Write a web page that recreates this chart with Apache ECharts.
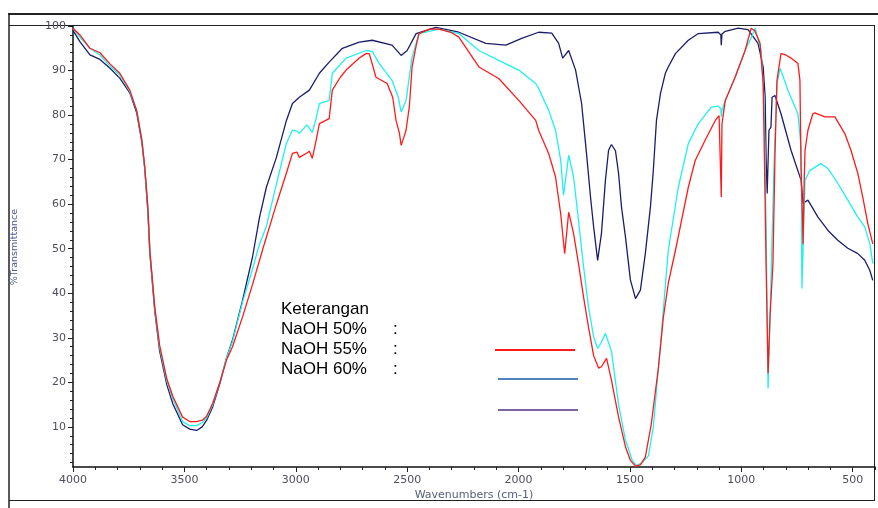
<!DOCTYPE HTML>
<html>
    <head>
        <title>FTIR NaOH</title>
        <meta charset="utf-8">
        <script src="https://cdn.jsdelivr.net/npm/echarts@6/dist/echarts.min.js"></script>
        <style>
            html, body { margin: 0; padding: 0; background: #fff; }
            #chart { width: 878px; height: 508px; }
        </style>
    </head>
    <body>
        <div id="chart"></div>
        <script>
        // wavenumbers (cm-1) and %T
        var redWn = [4000,3969,3924,3879,3834,3790,3745,3714,3691,3678,3664,3655,3633,3611,3579,3552,3508,3476,3445,3420,3400,3373,3342,3311,3284,3239,3194,3150,3087,3042,3015,2995,2984,2950,2939,2926,2910,2894,2850,2836,2800,2774,2715,2684,2670,2640,2590,2565,2550,2535,2527,2515,2505,2490,2478,2460,2447,2400,2357,2300,2268,2178,2089,1999,1923,1910,1865,1834,1811,1793,1775,1753,1731,1708,1686,1663,1641,1628,1605,1583,1551,1520,1498,1475,1453,1431,1404,1372,1350,1328,1296,1238,1207,1162,1117,1100,1092,1090,1087,1072,1028,983,956,940,916,902,893,889,880,871,858,849,840,822,800,777,746,737,732,728,723,718,714,701,679,670,625,580,535,508,477,455,432,410];
        var redT  = [99.5,98,95,94,91.5,89.4,85.6,81,74.4,68.4,59.4,49.6,36.9,28.3,20.8,16.9,12.2,11.2,11.2,11.5,12.4,15.3,19.8,25,28,34.7,42,49.6,60,67,71.4,71.7,70.5,71.5,71.9,70.3,74,78.1,79.2,85.6,88.5,90.1,92.8,93.8,93.8,88.5,87.1,84,78.8,76,73.2,75,76.6,82,90.8,95.5,98.3,99.3,99.3,98.5,97.5,90.8,88.2,83.3,78.8,76.6,71.4,66.1,57.9,48.9,58.2,53.4,46.7,39.1,32.4,26,23.2,23.5,25.4,20.5,12.2,5.5,2.5,1.2,1.5,3.2,10.7,23.4,34.6,42.2,49.6,63.8,69.8,74.4,78.8,79.9,79.5,61.6,78,83.3,88.5,94.5,99.5,99,96.1,87.1,60,46.7,22,35,46.7,71,87.8,93.8,93.5,92.8,91.6,87.8,68.4,61.6,51,65,72.1,76.6,80.3,80.5,79.6,79.6,75.8,72.1,66.9,61.6,55.6,51.1];

        var cyanWn = [4000,3969,3924,3879,3834,3790,3745,3714,3691,3678,3664,3655,3633,3611,3579,3552,3508,3476,3445,3420,3400,3373,3342,3311,3284,3239,3194,3163,3132,3087,3042,3015,2995,2984,2950,2926,2910,2894,2850,2836,2774,2684,2657,2626,2568,2540,2527,2505,2478,2447,2357,2268,2178,2089,1999,1923,1910,1865,1834,1811,1798,1775,1753,1731,1708,1686,1663,1645,1628,1610,1583,1551,1520,1490,1470,1445,1417,1395,1359,1328,1283,1238,1193,1135,1104,1092,1090,1087,1072,1028,983,950,938,911,898,889,880,871,853,840,826,791,746,732,728,714,692,643,611,567,522,477,446,423,410];
        var cyanT  = [99.5,97.5,95,93.5,91,89,85.3,81,74.4,68,59,49.3,36.5,27.8,20.3,16.3,11.2,10.3,10.3,11,12,15,19.8,25.5,29.2,38,45.5,51,55,64.5,73.7,76.6,76.4,75.9,77.8,76.1,79,82.6,83.3,89.4,92.8,94.5,94.3,91.6,87.8,84,80.7,83.3,93,98.3,99.3,98.3,94.5,92.3,90.1,87.1,86,81.1,76.6,69.9,62,71,66.1,56.4,45.9,36.9,30.2,27.6,29,31,27,15,7,2.5,1.3,2,3.5,10,30.9,49.6,63.8,73.6,78.1,81.8,82,81.5,79.6,81,83.3,88.5,94.5,98,99.5,94.5,83,55,18.6,35,69,87,90.5,85.6,80.3,72.9,41.1,65.4,67.6,69.1,68,64.7,60.9,57.1,54.9,51.1,46.7];

        var navyWn = [4000,3969,3924,3879,3834,3790,3745,3714,3691,3678,3664,3655,3633,3611,3579,3552,3508,3476,3445,3420,3400,3373,3342,3311,3284,3239,3194,3163,3132,3087,3042,3015,2984,2939,2894,2850,2791,2715,2657,2568,2527,2500,2460,2371,2268,2147,2057,1986,1910,1851,1820,1802,1775,1744,1717,1695,1677,1663,1645,1628,1610,1596,1583,1565,1551,1538,1520,1498,1475,1453,1431,1408,1395,1381,1363,1341,1328,1296,1238,1193,1104,1092,1090,1087,1072,1014,970,925,902,893,889,884,876,867,862,849,822,777,732,723,701,656,611,567,522,477,446,423,410];
        var navyT  = [99,96.5,93.5,92.5,90.5,88.3,85,80.5,74,68,58.5,49,36,27,19.5,15.2,10.5,9.5,9.2,10,11.5,14.5,19.5,25.5,29.5,38.4,48.2,57,63.8,70.5,78.8,82.6,84,85.6,89.4,91.9,95,96.4,96.8,95.7,93.4,94.5,98.3,99.7,98.6,96.1,95.7,97.2,98.6,98.4,96.1,92.8,94.5,90.1,82.6,71.4,61.6,54.9,47.4,53.4,65.4,72.1,73.4,72,66.9,59.4,52.6,43,38.8,40.7,48.9,59.4,67.6,78.8,84.8,89.4,90.8,93.8,96.8,98.3,98.6,98,95.7,98.2,98.8,99.5,99.2,96.1,90.8,84,70.6,62.4,76.6,77.3,84,84.4,80.3,72.1,65.4,60.2,60.9,57.1,54.1,51.9,50.1,48.9,47.4,45.1,42.9];

        var xLabels = [4000,3500,3000,2500,2000,1500,1000,500];
        var yLabels = [10,20,30,40,50,60,70,80,90,100];
        var legendNames = ['Keterangan','NaOH 50%','NaOH 55%','NaOH 60%'];

        function pairs(wn, t) {
            var out = [];
            for (var i = 0; i < wn.length; i++) out.push([wn[i], t[i]]);
            return out;
        }
        var xMinor = [];
        for (var v = 400; v <= 4000; v += 100) if (v % 500 !== 0) xMinor.push(v);
        var yMinor = [];
        for (var v = 2; v < 100; v += 2) if (v % 10 !== 0) yMinor.push(v);

        var plain = function (v) { return String(v); };
        var labelFont = { fontFamily: 'DejaVu Sans', fontSize: 11, color: '#4e4e5c', formatter: plain };
        var frame = '#222';

        var chart = echarts.init(document.getElementById('chart'));
        var option = {
            animation: false,
            backgroundColor: '#fff',
            grid: { left: 73, right: 3, top: 26, bottom: 41 },
            xAxis: [{
                type: 'value', inverse: true, min: 400, max: 4000,
                axisLine: { show: true, lineStyle: { color: '#111', width: 1.5 } },
                axisTick: { show: true, customValues: xLabels, length: 5, lineStyle: { color: '#222' } },
                axisLabel: Object.assign({ customValues: xLabels, margin: 8 }, labelFont),
                splitLine: { show: false }
            }, {
                type: 'value', inverse: true, min: 400, max: 4000, position: 'bottom',
                axisLine: { show: false },
                axisTick: { show: true, customValues: xMinor, length: 3, lineStyle: { color: '#222' } },
                axisLabel: { show: false },
                splitLine: { show: false }
            }],
            yAxis: [{
                type: 'value', min: 1, max: 100,
                axisLine: { show: true, lineStyle: { color: '#111', width: 1.5 } },
                axisTick: { show: true, customValues: yLabels, length: 5, lineStyle: { color: '#222' } },
                axisLabel: Object.assign({ customValues: yLabels, margin: 7 }, labelFont),
                splitLine: { show: false }
            }, {
                type: 'value', min: 1, max: 100, position: 'left',
                axisLine: { show: false },
                axisTick: { show: true, customValues: yMinor, length: 3, lineStyle: { color: '#222' } },
                axisLabel: { show: false },
                splitLine: { show: false }
            }],
            series: [
                { name: 'NaOH 50%', type: 'line', data: pairs(redWn, redT), showSymbol: false, z: 4,
                  lineStyle: { color: '#ff1a1a', width: 1.3 } },
                { name: 'NaOH 55%', type: 'line', data: pairs(cyanWn, cyanT), showSymbol: false, z: 3,
                  lineStyle: { color: '#1ff0f0', width: 1.3 } },
                { name: 'NaOH 60%', type: 'line', data: pairs(navyWn, navyT), showSymbol: false, z: 2,
                  lineStyle: { color: '#1c1c6a', width: 1.3 } }
            ],
            graphic: [
                // outer frame
                { type: 'line', shape: { x1: 8, y1: 14, x2: 878, y2: 14 }, style: { stroke: frame, lineWidth: 2 } },
                { type: 'line', shape: { x1: 9, y1: 14, x2: 9, y2: 508 }, style: { stroke: frame, lineWidth: 1.5 } },
                { type: 'line', shape: { x1: 9, y1: 25.5, x2: 875, y2: 25.5 }, style: { stroke: frame, lineWidth: 1 } },
                { type: 'line', shape: { x1: 874.5, y1: 25, x2: 874.5, y2: 501 }, style: { stroke: frame, lineWidth: 1 } },
                { type: 'line', shape: { x1: 9, y1: 500.5, x2: 875, y2: 500.5 }, style: { stroke: frame, lineWidth: 1 } },
                // axis titles
                { type: 'text', x: 474, y: 495, style: { text: 'Wavenumbers (cm-1)', fontFamily: 'DejaVu Sans', fontSize: 11,
                  fill: '#55607a', align: 'center', verticalAlign: 'middle' } },
                { type: 'text', x: 15, y: 247, rotation: Math.PI / 2, style: { text: '%Transmittance', fontFamily: 'DejaVu Sans',
                  fontSize: 9.5, fill: '#4a5a8a', align: 'center', verticalAlign: 'middle' } },
                // keterangan block
                { type: 'text', x: 281, y: 318, style: { text: legendNames[0], fontFamily: 'Liberation Sans', fontSize: 17, fill: '#000', verticalAlign: 'bottom' } },
                { type: 'text', x: 281, y: 338, style: { text: legendNames[1], fontFamily: 'Liberation Sans', fontSize: 17, fill: '#000', verticalAlign: 'bottom' } },
                { type: 'text', x: 281, y: 358, style: { text: legendNames[2], fontFamily: 'Liberation Sans', fontSize: 17, fill: '#000', verticalAlign: 'bottom' } },
                { type: 'text', x: 281, y: 378, style: { text: legendNames[3], fontFamily: 'Liberation Sans', fontSize: 17, fill: '#000', verticalAlign: 'bottom' } },
                { type: 'text', x: 393, y: 338, style: { text: ':', fontFamily: 'Liberation Sans', fontSize: 17, fill: '#000', verticalAlign: 'bottom' } },
                { type: 'text', x: 393, y: 358, style: { text: ':', fontFamily: 'Liberation Sans', fontSize: 17, fill: '#000', verticalAlign: 'bottom' } },
                { type: 'text', x: 393, y: 378, style: { text: ':', fontFamily: 'Liberation Sans', fontSize: 17, fill: '#000', verticalAlign: 'bottom' } },
                { type: 'line', shape: { x1: 495, y1: 350, x2: 575, y2: 350 }, style: { stroke: '#ff1a1a', lineWidth: 2 } },
                { type: 'line', shape: { x1: 498, y1: 379, x2: 578, y2: 379 }, style: { stroke: '#4f81bd', lineWidth: 2 } },
                { type: 'line', shape: { x1: 498, y1: 410, x2: 578, y2: 410 }, style: { stroke: '#8064a2', lineWidth: 2 } }
            ]
        };
        chart.setOption(option);
        </script>
    </body>
</html>
